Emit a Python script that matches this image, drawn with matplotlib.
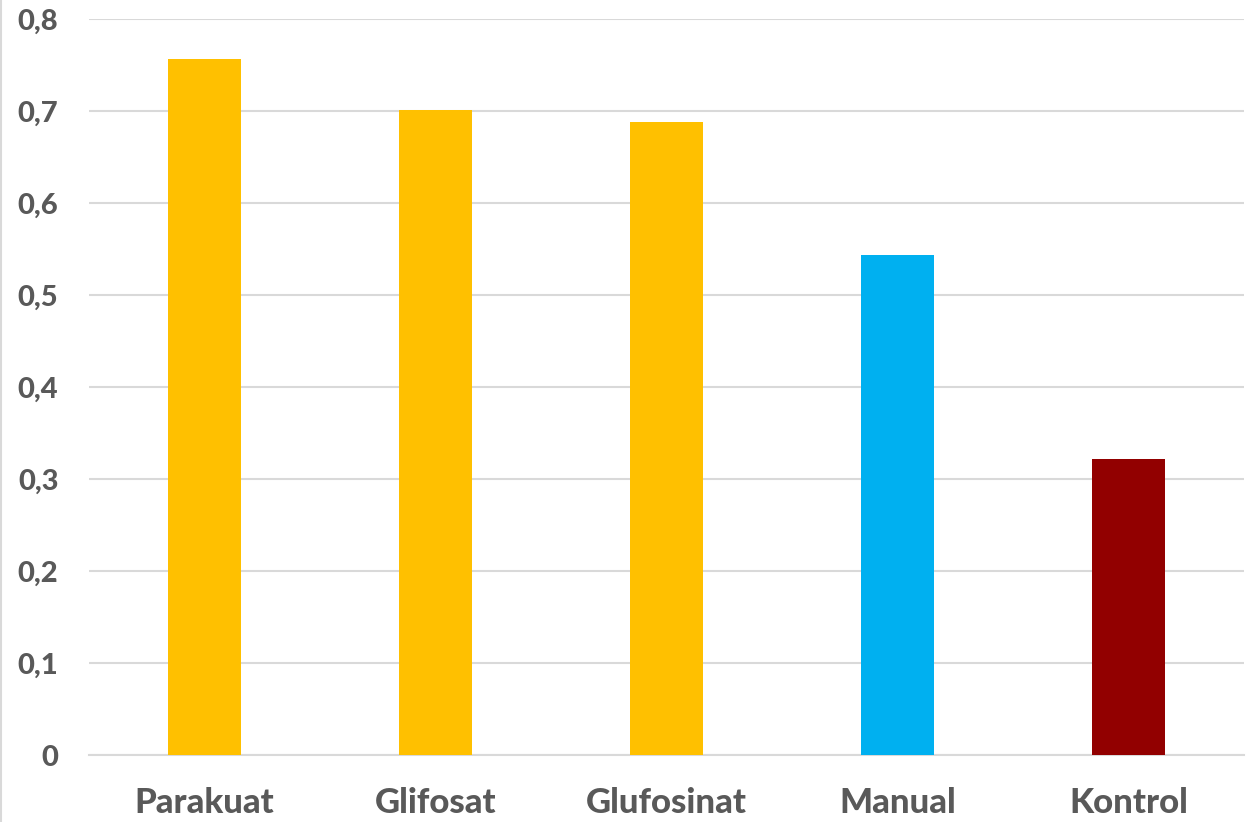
import matplotlib.pyplot as plt
from matplotlib.lines import Line2D

categories = ['Parakuat', 'Glifosat', 'Glufosinat', 'Manual', 'Kontrol']
values = [0.756, 0.701, 0.688, 0.543, 0.322]
colors = ['#FFC000', '#FFC000', '#FFC000', '#00B0F0', '#920000']
yticks = [0, 0.1, 0.2, 0.3, 0.4, 0.5, 0.6, 0.7, 0.8]
ytick_labels = ['0', '0,1', '0,2', '0,3', '0,4', '0,5', '0,6', '0,7', '0,8']

plt.rcParams['font.family'] = ['Lato', 'DejaVu Sans']

fig = plt.figure(figsize=(12.46, 8.22), dpi=100)
ax = fig.add_axes([89 / 1246, 1 - 755 / 822, (1244 - 89) / 1246, (755 - 19) / 822])

x = range(len(categories))
ax.bar(x, values, width=0.316, color=colors, zorder=3)

ax.set_xlim(-0.5, len(categories) - 0.5)
ax.set_ylim(0, 0.8)
ax.set_yticks(yticks)
ax.set_yticklabels(ytick_labels)
ax.set_xticks(list(x))
ax.set_xticklabels(categories)

ax.grid(axis='y', color='#D9D9D9', linewidth=1.5, zorder=0)
for s in ['top', 'right', 'left']:
    ax.spines[s].set_visible(False)
ax.spines['bottom'].set_color('#D9D9D9')
ax.spines['bottom'].set_linewidth(1.5)

ax.tick_params(axis='y', length=0, pad=22, labelsize=21, labelcolor='#595959')
ax.tick_params(axis='x', length=0, pad=23, labelsize=25, labelcolor='#595959')
for lab in ax.get_xticklabels() + ax.get_yticklabels():
    lab.set_fontweight('black')

# chart frame edge on the left
fig.add_artist(Line2D([0.0008, 0.0008], [0, 1], color='#D9D9D9', linewidth=1.5,
                      transform=fig.transFigure))

fig.savefig('out.png', dpi=100, facecolor='white')
